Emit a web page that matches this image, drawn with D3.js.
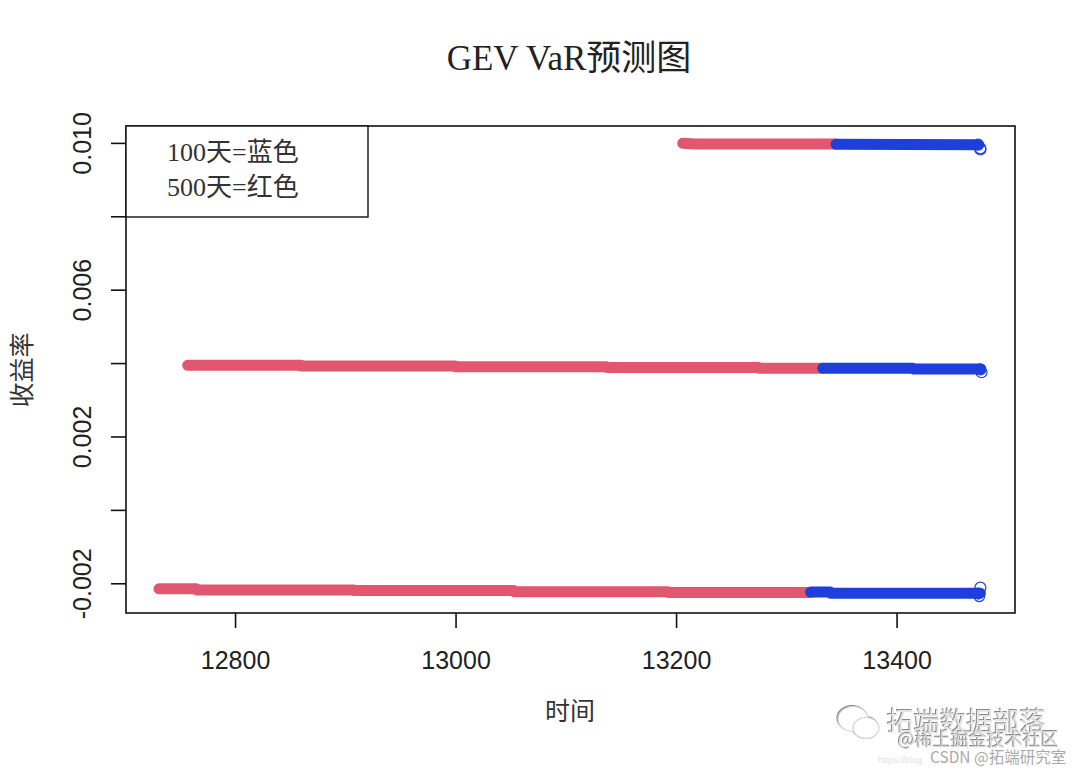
<!DOCTYPE html>
<html><head><meta charset="utf-8">
<script src="https://cdn.jsdelivr.net/npm/d3@7"></script>
<style>
html,body{margin:0;background:#fff}
svg{display:block}
.axis path,.axis line{stroke:#111;stroke-width:1.6}
.axis text{font-family:"Liberation Sans",Arial,sans-serif;font-size:25px;fill:#222}
</style></head><body><svg id="c" width="1080" height="771"></svg>
<script>
const titleText = "GEV VaR预测图";
const xLabel = "时间", yLabel = "收益率";
const legendLines = ["100天=蓝色", "500天=红色"];
const xTicks = [12800, 13000, 13200, 13400];
const yTicks = [-0.002, 0, 0.002, 0.004, 0.006, 0.008, 0.01];
const yTickLabels = ["-0.002", "", "0.002", "", "0.006", "", "0.010"];

// step runs of each VaR line: [time, value]
const red500Top = [[13206, 0.00999], [13218, 0.00997], [13345, 0.00997]];
const blue100Top = [[13345, 0.00996], [13474, 0.00995]];
const red500Mid = [[12757, 0.00394], [12860, 0.00394], [12860, 0.00392], [13000, 0.00392], [13000, 0.0039], [13137, 0.0039], [13137, 0.00388], [13275, 0.00388], [13275, 0.00386], [13333, 0.00386]];
const blue100Mid = [[13333, 0.00386], [13415, 0.00386], [13415, 0.00384], [13476, 0.00384]];
const red500Low = [[12731, -0.00215], [12765, -0.00215], [12765, -0.00218], [12908, -0.00218], [12908, -0.0022], [13053, -0.0022], [13053, -0.00223], [13193, -0.00223], [13193, -0.00225], [13322, -0.00225]];
const blue100Low = [[13322, -0.00224], [13340, -0.00224], [13340, -0.00227], [13476, -0.00227]];
// last forecasts drawn as open circles
const endPoints = [[13474, 0.00995], [13476, 0.00985], [13476, 0.00982], [13476, 0.00383], [13477, 0.00375], [13476, -0.00212], [13475, -0.00235], [13474, -0.00228]];

const redColor = "#e2566f", blueColor = "#1f3fdc";
const cjk = '"Noto Sans CJK SC"';
const serif = `"Liberation Serif","Noto Sans CJK SC"`;

const svg = d3.select("#c");
const L = 126, R = 1015, T = 126, B = 613;
const x = d3.scaleLinear().domain([12701.1, 13507.4]).range([L, R]);
const y = d3.scaleLinear().domain([-0.00281, 0.01046]).range([B, T]);

const line = d3.line().x(d => x(d[0])).y(d => y(d[1]));
[[red500Top, redColor], [red500Mid, redColor], [red500Low, redColor],
 [blue100Top, blueColor], [blue100Mid, blueColor], [blue100Low, blueColor]].forEach(([d, c]) => {
  svg.append("path").attr("d", line(d)).attr("fill", "none").attr("stroke", c)
    .attr("stroke-width", 11).attr("stroke-linecap", "round").attr("stroke-linejoin", "round");
});
svg.selectAll("circle.e").data(endPoints).join("circle").attr("class", "e")
  .attr("cx", d => x(d[0])).attr("cy", d => y(d[1])).attr("r", 5.5)
  .attr("fill", "none").attr("stroke", blueColor).attr("stroke-width", 1.2);

svg.append("rect").attr("x", L).attr("y", T).attr("width", R - L).attr("height", B - T)
  .attr("fill", "none").attr("stroke", "#111").attr("stroke-width", 1.6);

const ax = svg.append("g").attr("class", "axis").attr("transform", `translate(0,${B})`)
  .call(d3.axisBottom(x).tickValues(xTicks).tickSize(15).tickPadding(23).tickFormat(d3.format("d")));
ax.select(".domain").remove();

const ay = svg.append("g").attr("class", "axis").attr("transform", `translate(${L},0)`)
  .call(d3.axisLeft(y).tickValues(yTicks).tickSize(15).tickFormat((d, i) => yTickLabels[i]));
ay.select(".domain").remove();
ay.selectAll("text").attr("transform", "translate(-35,0) rotate(-90)")
  .attr("x", 0).attr("y", 0).attr("dy", 0).attr("text-anchor", "middle").attr("dominant-baseline", "auto");

// legend box
svg.append("rect").attr("x", L).attr("y", T).attr("width", 242).attr("height", 91)
  .attr("fill", "#fff").attr("stroke", "#111").attr("stroke-width", 1.4);
legendLines.forEach((t, i) => {
  svg.append("text").attr("x", 167).attr("y", 161 + i * 35).text(t)
    .attr("font-family", serif).attr("font-size", 26).attr("fill", "#333");
});

svg.append("text").attr("x", 569).attr("y", 70).attr("text-anchor", "middle").text(titleText)
  .attr("font-family", serif).attr("font-size", 35).attr("fill", "#222");
svg.append("text").attr("x", 570).attr("y", 720).attr("text-anchor", "middle").text(xLabel)
  .attr("font-family", cjk).attr("font-size", 25).attr("fill", "#333");
svg.append("text").attr("transform", "translate(31,370) rotate(-90)").attr("text-anchor", "middle").text(yLabel)
  .attr("font-family", cjk).attr("font-size", 25).attr("fill", "#333");

// watermark
const wm = svg.append("g").style("filter", "drop-shadow(-0.7px -0.7px 0 #8a8a8a)");
const bub = wm.append("g").attr("fill", "#fff").attr("stroke", "#d5d5d5").attr("stroke-width", 1.2);
bub.append("ellipse").attr("cx", 853).attr("cy", 719).attr("rx", 15).attr("ry", 12.5);
bub.append("ellipse").attr("cx", 866).attr("cy", 728).attr("rx", 13).attr("ry", 10.5);
wm.append("text").attr("x", 887).attr("y", 731).text("拓端数据部落")
  .attr("font-family", cjk).attr("font-size", 26.5).attr("fill", "#e4e4e4");
wm.append("text").attr("x", 898).attr("y", 746).text("@稀土掘金技术社区")
  .attr("font-family", cjk).attr("font-size", 18).attr("fill", "#d8d8d8");
svg.append("text").attr("x", 930).attr("y", 763).text("CSDN @拓端研究室")
  .attr("font-family", cjk).attr("font-size", 15.5).attr("fill", "#aaa");
svg.append("text").attr("x", 878).attr("y", 763).text("https://blog")
  .attr("font-family", '"Liberation Sans"').attr("font-size", 9).attr("fill", "#e2e2e2");
</script></body></html>
